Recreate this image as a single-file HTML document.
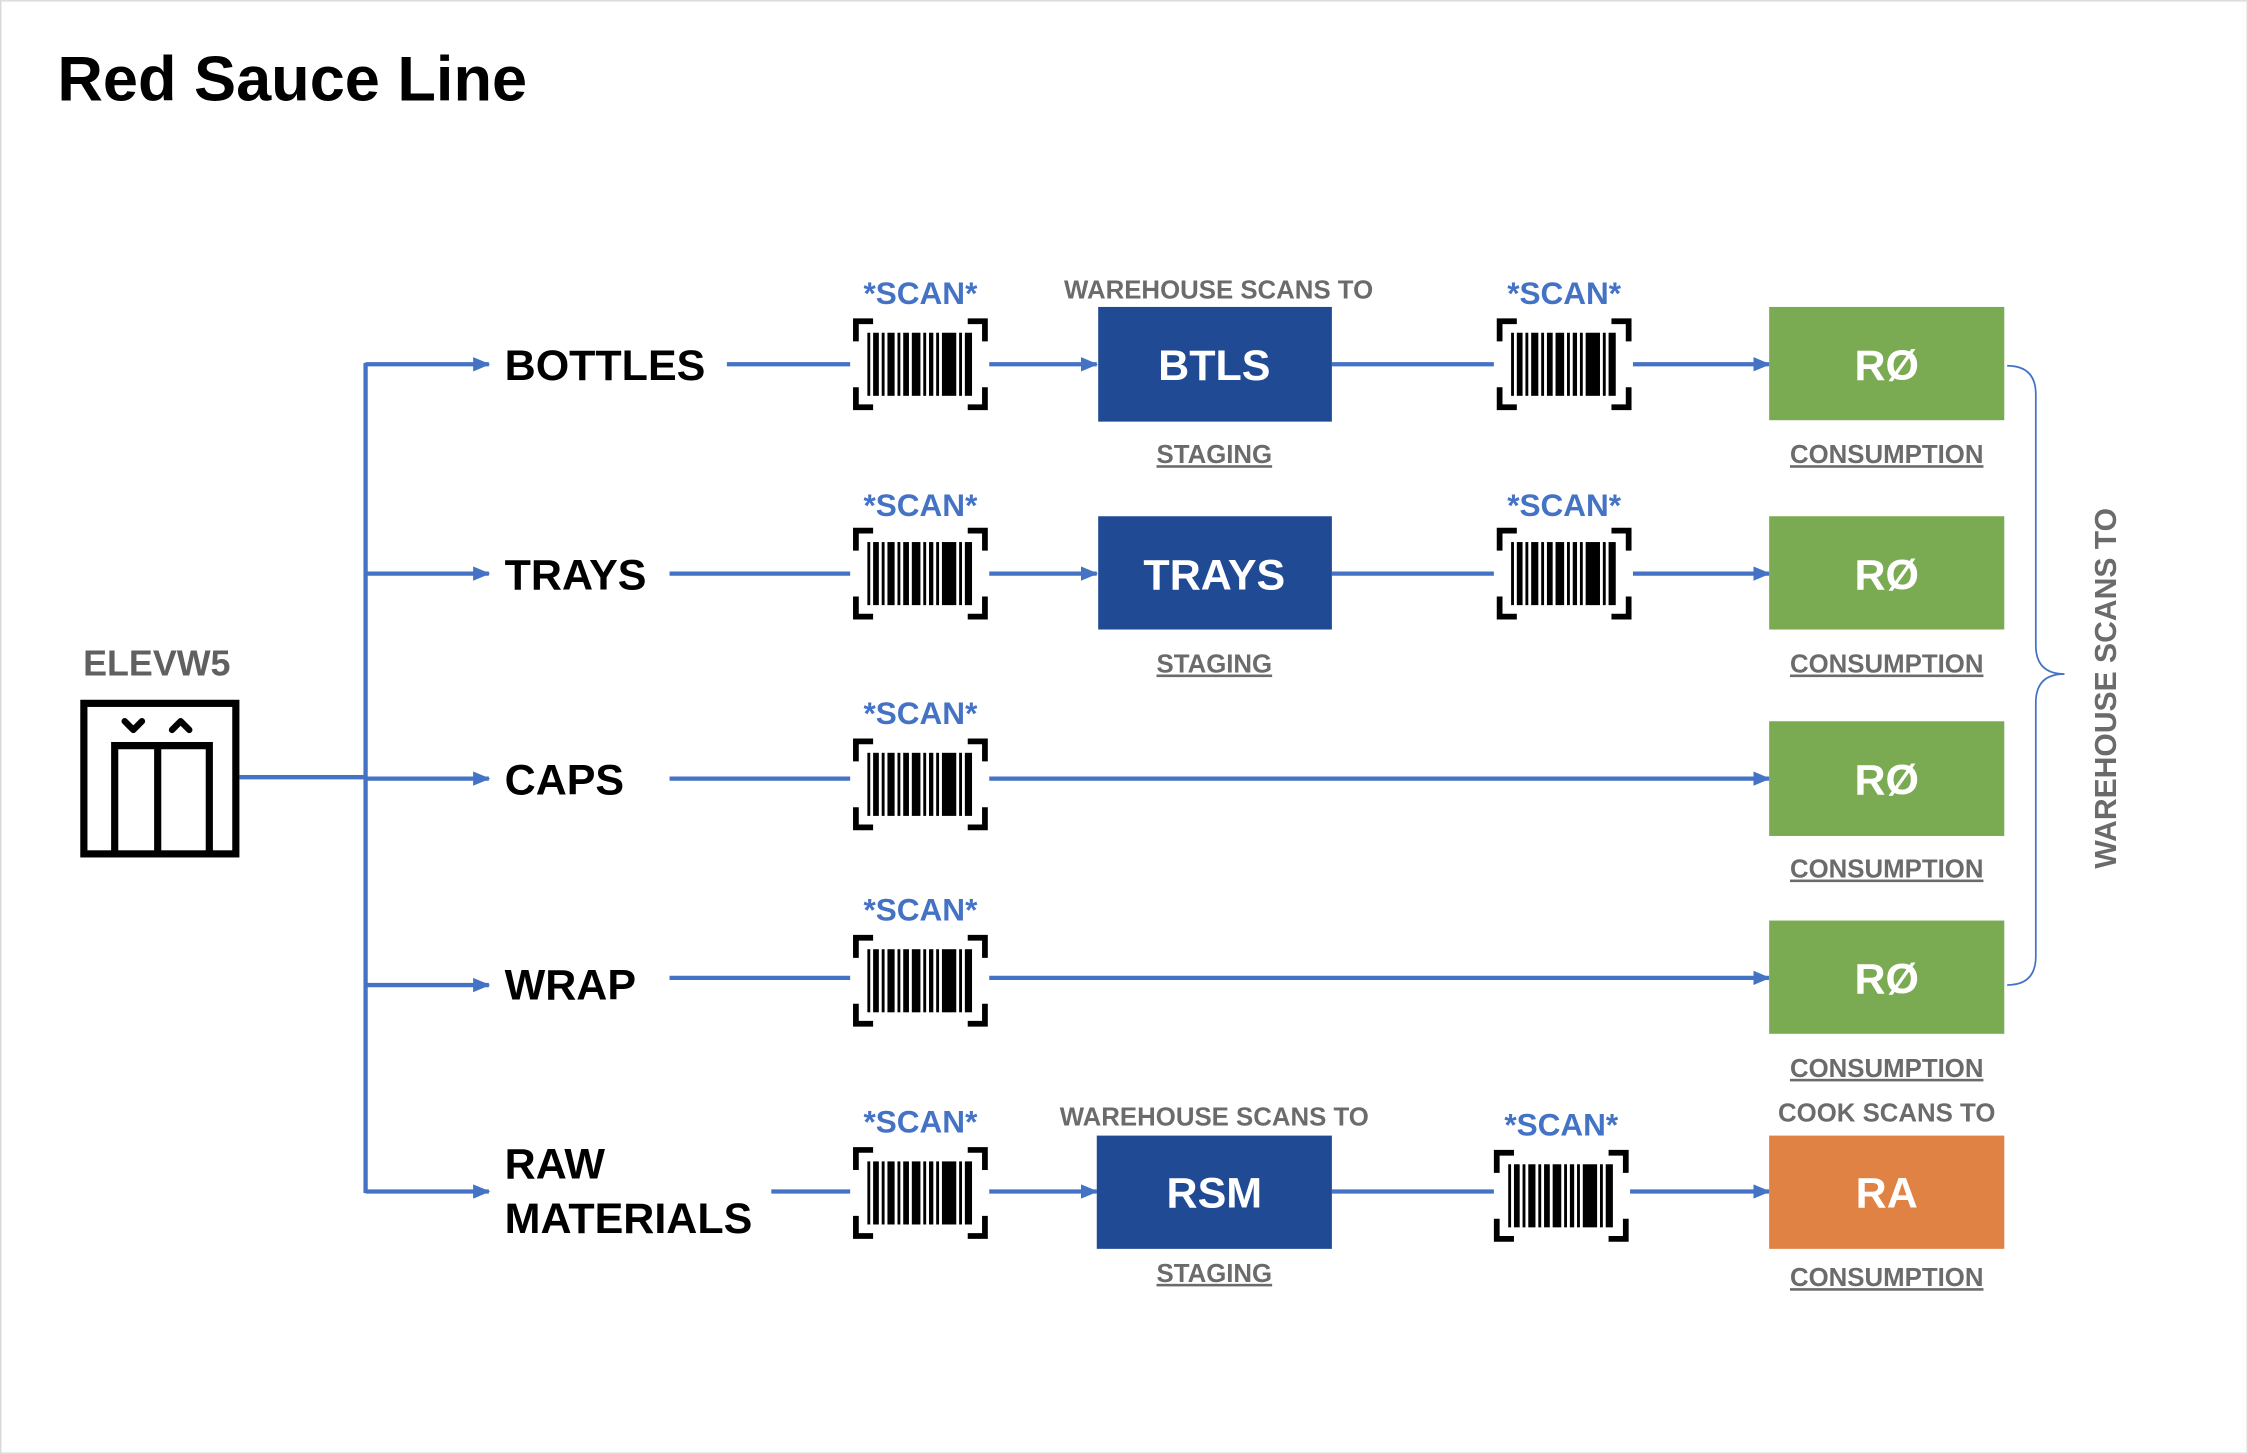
<!DOCTYPE html>
<html><head><meta charset="utf-8"><style>
html,body{margin:0;padding:0;background:#fff}
svg{display:block}
text{font-family:"Liberation Sans",sans-serif}
</style></head><body>
<svg width="2248" height="1454" viewBox="0 0 1568 1014" xmlns="http://www.w3.org/2000/svg">
<defs>
<marker id="ar" markerWidth="12" markerHeight="10" refX="11" refY="5" orient="auto" markerUnits="userSpaceOnUse"><path d="M0,0 L12,5 L0,10 Z" fill="#4472c4"/></marker>
<g id="bc">
<path d="M2,16 V2 H14 M80,2 H92 V16 M2,48 V62 H14 M80,62 H92 V48" fill="none" stroke="#000" stroke-width="4"/>
<g fill="#000">
<rect x="10" y="10" width="2" height="44"/><rect x="14" y="10" width="4" height="44"/><rect x="20" y="10" width="2" height="44"/>
<rect x="24" y="10" width="5" height="44"/><rect x="31" y="10" width="2" height="44"/><rect x="35" y="10" width="4" height="44"/>
<rect x="41" y="10" width="6" height="44"/><rect x="49" y="10" width="2" height="44"/><rect x="53" y="10" width="3" height="44"/>
<rect x="58" y="10" width="2" height="44"/><rect x="62" y="10" width="10" height="44"/><rect x="74" y="10" width="2" height="44"/>
<rect x="78" y="10" width="5" height="44"/>
</g>
</g>
</defs>
<rect x="0.5" y="0.5" width="1567" height="1013" fill="#fff" stroke="#d9d9d9"/>
<text x="40" y="70" font-size="44" font-weight="bold" fill="#000">Red Sauce Line</text>

<!-- elevator -->
<text x="58" y="471" font-size="25" font-weight="bold" fill="#606060">ELEVW5</text>
<rect x="58.5" y="490.5" width="106" height="105" fill="none" stroke="#000" stroke-width="5"/>
<path d="M87,503 L93,509 L99,503 M120,509 L126,503 L132,509" fill="none" stroke="#000" stroke-width="4.5" stroke-linecap="round" stroke-linejoin="round"/>
<path d="M80,596 V520 H146 V596 M110,522 V596" fill="none" stroke="#000" stroke-width="5"/>

<g stroke="#4472c4" stroke-width="3" fill="none">
<path d="M167,542 H255 M255,253 V832"/>
<path d="M255,254 H341" marker-end="url(#ar)"/>
<path d="M255,400 H341" marker-end="url(#ar)"/>
<path d="M255,543 H341" marker-end="url(#ar)"/>
<path d="M255,687 H341" marker-end="url(#ar)"/>
<path d="M255,831 H341" marker-end="url(#ar)"/>
<path d="M507,254 H593 M467,400 H593 M467,543 H593 M467,682 H593 M538,831 H593"/>
<path d="M690,254 H765" marker-end="url(#ar)"/>
<path d="M690,400 H765" marker-end="url(#ar)"/>
<path d="M690,831 H765" marker-end="url(#ar)"/>
<path d="M929,254 H1042 M929,400 H1042 M929,831 H1042"/>
<path d="M1139,254 H1234" marker-end="url(#ar)"/>
<path d="M1139,400 H1234" marker-end="url(#ar)"/>
<path d="M1137,831 H1234" marker-end="url(#ar)"/>
<path d="M690,543 H1234" marker-end="url(#ar)"/>
<path d="M690,682 H1234" marker-end="url(#ar)"/>
</g>

<g font-size="30" font-weight="bold" fill="#000">
<text x="352" y="265">BOTTLES</text>
<text x="352" y="411">TRAYS</text>
<text x="352" y="554">CAPS</text>
<text x="352" y="697">WRAP</text>
<text x="352" y="822">RAW</text>
<text x="352" y="860">MATERIALS</text>
</g>

<use href="#bc" x="595" y="222"/><use href="#bc" x="1044" y="222"/>
<use href="#bc" x="595" y="368"/><use href="#bc" x="1044" y="368"/>
<use href="#bc" x="595" y="515"/>
<use href="#bc" x="595" y="652"/>
<use href="#bc" x="595" y="800"/><use href="#bc" x="1042" y="802"/>

<g font-size="22" font-weight="bold" fill="#4472c4" text-anchor="middle">
<text x="642" y="212">*SCAN*</text><text x="1091" y="212">*SCAN*</text>
<text x="642" y="360">*SCAN*</text><text x="1091" y="360">*SCAN*</text>
<text x="642" y="505">*SCAN*</text>
<text x="642" y="642">*SCAN*</text>
<text x="642" y="790">*SCAN*</text><text x="1089" y="792">*SCAN*</text>
</g>

<rect x="766" y="214" width="163" height="80" fill="#204a94"/>
<rect x="766" y="360" width="163" height="79" fill="#204a94"/>
<rect x="765" y="792" width="164" height="79" fill="#204a94"/>
<rect x="1234" y="214" width="164" height="79" fill="#7aab52"/>
<rect x="1234" y="360" width="164" height="79" fill="#7aab52"/>
<rect x="1234" y="503" width="164" height="80" fill="#7aab52"/>
<rect x="1234" y="642" width="164" height="79" fill="#7aab52"/>
<rect x="1234" y="792" width="164" height="79" fill="#e08243"/>
<g font-size="30" font-weight="bold" fill="#fff" text-anchor="middle">
<text x="847" y="265">BTLS</text><text x="847" y="411">TRAYS</text><text x="847" y="842">RSM</text>
<text x="1316" y="265">RØ</text><text x="1316" y="411">RØ</text><text x="1316" y="554">RØ</text><text x="1316" y="693">RØ</text><text x="1316" y="842">RA</text>
</g>

<g font-size="18" font-weight="bold" fill="#6b6b6b" text-anchor="middle" text-decoration="underline">
<text x="847" y="323">STAGING</text><text x="847" y="469">STAGING</text><text x="847" y="894">STAGING</text>
<text x="1316" y="323">CONSUMPTION</text><text x="1316" y="469">CONSUMPTION</text><text x="1316" y="612">CONSUMPTION</text><text x="1316" y="751">CONSUMPTION</text><text x="1316" y="897">CONSUMPTION</text>
</g>
<g font-size="18" font-weight="bold" fill="#6b6b6b" text-anchor="middle">
<text x="850" y="208">WAREHOUSE SCANS TO</text>
<text x="847" y="785">WAREHOUSE SCANS TO</text>
<text x="1316" y="782">COOK SCANS TO</text>
</g>

<path d="M1400,255 Q1420,255 1420,275 V450 Q1420,470 1440,470 Q1420,470 1420,490 V667 Q1420,687 1400,687" fill="none" stroke="#4472c4" stroke-width="1.2"/>
<text transform="translate(1476,480) rotate(-90)" font-size="21" font-weight="bold" fill="#6b6b6b" text-anchor="middle">WAREHOUSE SCANS TO</text>
</svg>
</body></html>
